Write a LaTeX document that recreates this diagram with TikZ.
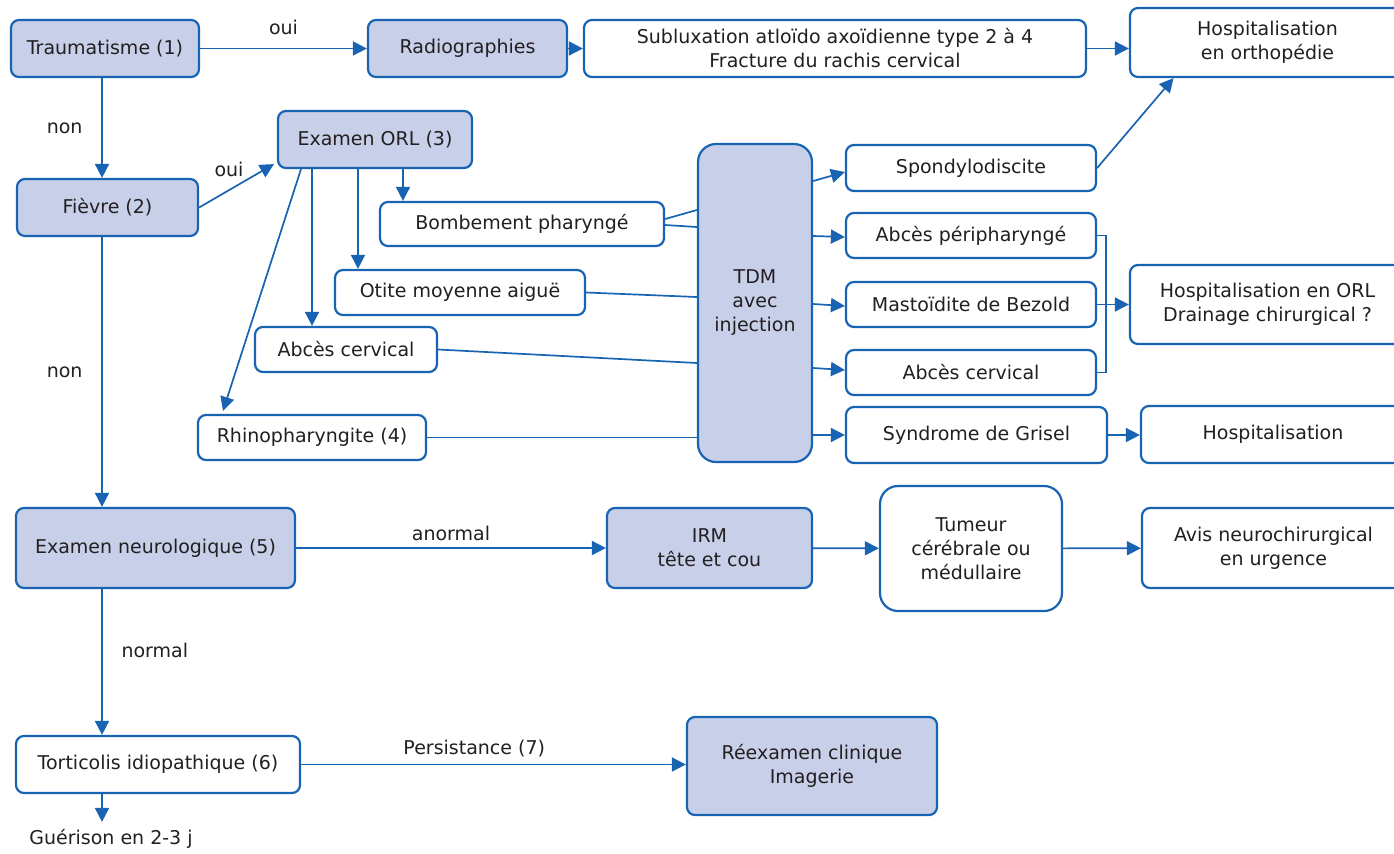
\documentclass[tikz,border=0pt]{standalone}
\usepackage{fontspec}
\setmainfont{DejaVu Sans}
\usetikzlibrary{arrows.meta}
\definecolor{trait}{RGB}{24,100,178}
\definecolor{fond}{RGB}{200,208,233}
\definecolor{texte}{RGB}{35,31,32}

\begin{document}
\begin{tikzpicture}[->,>={Triangle[length=7pt,width=7pt]},x=0.5pt,y=-0.5pt,
                    line width=0.85pt,color=trait]
  \tikzstyle{every node}=[text=texte,font=\fontsize{9.5}{12}\selectfont]
  \tikzstyle{etape}=[draw=trait,line width=1.1pt,rounded corners=4pt,fill=white,
                     align=center,inner sep=0pt]
  \tikzstyle{etapegrise}=[etape,fill=fond]

  \useasboundingbox (0,0) rectangle (1394,853);
  \coordinate (col) at (102,0);

  % colonne de gauche
  \node[etapegrise,minimum width=94pt,minimum height=28.5pt]  (trauma) at (105,48.5)  {Traumatisme (1)};
  \node[etapegrise,minimum width=90.5pt,minimum height=28.5pt] (fievre) at (107.5,207.5) {Fièvre (2)};
  \node[etapegrise,minimum width=139.5pt,minimum height=40pt] (neuro) at (155.5,548) {Examen neurologique (5)};
  \node[etape,minimum width=142pt,minimum height=28.5pt]      (tortic) at (158,764.5) {Torticolis idiopathique (6)};
  \node (guer) at (111,839) {Guérison en 2-3 j};

  % traumatisme
  \node[etapegrise,minimum width=99.5pt,minimum height=28.5pt] (radio) at (467.5,48.5) {Radiographies};
  \node[etape,minimum width=251pt,minimum height=28.5pt]      (sublux) at (835,48.5)
       {Subluxation atloïdo axoïdienne type 2 à 4\\Fracture du rachis cervical};
  \node[etape,minimum width=137.5pt,minimum height=34.5pt]    (hortho) at (1267.5,42.5)
       {Hospitalisation\\en orthopédie};

  % fievre
  \node[etapegrise,minimum width=97pt,minimum height=28.5pt]  (orl) at (375,139.5) {Examen ORL (3)};
  \node[etape,minimum width=142pt,minimum height=22pt]        (bomb) at (522,224) {Bombement pharyngé};
  \node[etape,minimum width=125pt,minimum height=22.5pt]      (otite) at (460,292.5) {Otite moyenne aiguë};
  \node[etape,minimum width=91pt,minimum height=22.5pt]       (abcesL) at (346,349.5) {Abcès cervical};
  \node[etape,minimum width=114pt,minimum height=22.5pt]      (rhino) at (312,437.5) {Rhinopharyngite (4)};
  \node[etapegrise,rounded corners=9pt,minimum width=57pt,minimum height=159pt] (tdm) at (755,303)
       {TDM\\avec\\injection};
  \node[etape,minimum width=125pt,minimum height=23pt]        (spondy) at (971,168) {Spondylodiscite};
  \node[etape,minimum width=125pt,minimum height=22.5pt]      (aperi) at (971,235.5) {Abcès péripharyngé};
  \node[etape,minimum width=125pt,minimum height=22.5pt]      (masto) at (971,304.5) {Mastoïdite de Bezold};
  \node[etape,minimum width=125pt,minimum height=22.5pt]      (abcesR) at (971,372.5) {Abcès cervical};
  \node[etape,minimum width=130.5pt,minimum height=28pt]      (grisel) at (976.5,435) {Syndrome de Grisel};
  \node[etape,minimum width=137.5pt,minimum height=39.5pt]    (horl) at (1267.5,304.5)
       {Hospitalisation en ORL\\Drainage chirurgical ?};
  \node[etape,minimum width=132pt,minimum height=28.5pt]      (hosp) at (1273,434.5) {Hospitalisation};

  % neurologie
  \node[etapegrise,minimum width=102.5pt,minimum height=40pt] (irm) at (709.5,548) {IRM\\tête et cou};
  \node[etape,rounded corners=9pt,minimum width=91pt,minimum height=62.5pt] (tumeur) at (971,548.5)
       {Tumeur\\cérébrale ou\\médullaire};
  \node[etape,minimum width=131.5pt,minimum height=40pt]      (avis) at (1273.5,548)
       {Avis neurochirurgical\\en urgence};
  \node[etapegrise,minimum width=125pt,minimum height=49pt]   (reex) at (812,766)
       {Réexamen clinique\\Imagerie};

  \coordinate (o1) at ([shift={(28,0)}]orl.south);
  \coordinate (o2) at ([shift={(-17,0)}]orl.south);
  \coordinate (o3) at ([shift={(-63,0)}]orl.south);
  \coordinate (o4) at ([shift={(-74,0)}]orl.south);

  \draw (trauma) -- node[above=3pt] {oui} (radio);
  \draw (radio) -- (sublux);
  \draw (sublux.east) -- (sublux.east -| hortho.west);
  \draw (trauma.south -| col) -- node[left=6pt] {non} (fievre.north -| col);
  \draw (fievre.east) -- node[pos=0.4,above=3pt] {oui} ([shift={(-3,-5)}]orl.south west);
  \draw (fievre.south -| col) -- node[left=6pt] {non} (neuro.north -| col);

  \draw (o1) -- (o1 |- bomb.north);
  \draw (o2) -- (o2 |- otite.north);
  \draw (o3) -- (o3 |- abcesL.north);
  \draw (o4) -- ([shift={(-89,-3)}]rhino.north);

  \draw[-] ([shift={(0,-5)}]bomb.east) -- ([shift={(0,-93)}]tdm.west);
  \draw[-] ([shift={(0,1)}]bomb.east) -- ([shift={(0,-76)}]tdm.west);
  \draw[-] (otite.east) -- ([shift={(0,-6)}]tdm.west);
  \draw[-] (abcesL.east) -- ([shift={(0,60)}]tdm.west);
  \draw[-] (rhino.east) -- (rhino.east -| tdm.west);

  \draw ([shift={(0,-122)}]tdm.east) -- ([shift={(0,4)}]spondy.west);
  \draw ([shift={(0,-67)}]tdm.east) -- ([shift={(0,1.5)}]aperi.west);
  \draw ([shift={(0,1)}]tdm.east) -- ([shift={(0,1.5)}]masto.west);
  \draw ([shift={(0,65)}]tdm.east) -- ([shift={(0,-2.5)}]abcesR.west);
  \draw (grisel.west -| tdm.east) -- (grisel.west);

  \draw (spondy.east) -- ([shift={(-94,0)}]hortho.south);
  \draw[-] (aperi.east) -- ++(9,0) |- (abcesR.east);
  \draw (masto.east) -- (masto.east -| horl.west);
  \draw (grisel.east) -- (grisel.east -| hosp.west);

  \draw (neuro) -- node[above] {anormal} (irm);
  \draw (irm) -- (tumeur);
  \draw (tumeur) -- (avis);
  \draw (neuro.south -| col) -- node[pos=0.42,right=6pt] {normal} (tortic.north -| col);
  \draw (tortic.east) -- node[pos=0.45,above] {Persistance (7)} (tortic.east -| reex.west);
  \draw (tortic.south -| col) -- (guer.north -| col);
\end{tikzpicture}
\end{document}
